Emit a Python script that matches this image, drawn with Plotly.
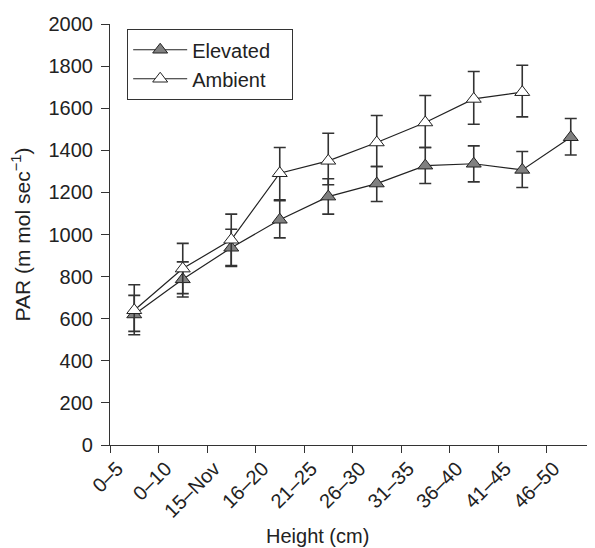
import plotly.graph_objects as go

categories = ["0–5", "0–10", "15–Nov", "16–20", "21–25", "26–30", "31–35", "36–40", "41–45", "46–50"]

elevated = [620, 787, 937, 1070, 1180, 1242, 1327, 1336, 1307, 1462]
elevated_upper = [711, 870, 1025, 1160, 1265, 1323, 1413, 1421, 1394, 1551]
elevated_lower = [540, 703, 848, 984, 1097, 1157, 1242, 1250, 1223, 1378]

ambient = [640, 838, 975, 1291, 1350, 1437, 1532, 1644, 1676]
ambient_upper = [761, 958, 1097, 1413, 1481, 1565, 1660, 1774, 1804]
ambient_lower = [524, 719, 853, 1165, 1236, 1323, 1413, 1524, 1559]

yticks = [0, 200, 400, 600, 800, 1000, 1200, 1400, 1600, 1800, 2000]

FONT = "Liberation Sans, Arial, sans-serif"
TXT = "#222222"
AX = "#333333"

def err(vals, up, lo):
    return dict(type="data", symmetric=False,
                array=[u - v for u, v in zip(up, vals)],
                arrayminus=[v - l for v, l in zip(vals, lo)],
                color=AX, thickness=1.6, width=6)

fig = go.Figure()
fig.add_trace(go.Scatter(
    x=categories, y=elevated, name="Elevated\u00a0\u00a0\u00a0", mode="lines+markers",
    legendgroup="e",
    line=dict(color="#222222", width=1.2),
    marker=dict(symbol="triangle-up", size=13, color="#808080",
                line=dict(color="#222222", width=1)),
    error_y=err(elevated, elevated_upper, elevated_lower),
))
fig.add_trace(go.Scatter(
    x=categories[:len(ambient)], y=ambient, name="Ambient", mode="lines+markers",
    legendgroup="a",
    line=dict(color="#222222", width=1.2),
    marker=dict(symbol="triangle-up", size=13, color="white",
                line=dict(color="#222222", width=1)),
    error_y=err(ambient, ambient_upper, ambient_lower),
))

fig.update_layout(
    width=587, height=540,
    margin=dict(l=102, r=0, t=16, b=102.5, autoexpand=False),
    paper_bgcolor="white", plot_bgcolor="white",
    font=dict(family=FONT, size=20, color=TXT),
    showlegend=True,
    legend=dict(x=0.035, y=0.988, xanchor="left", yanchor="top",
                bgcolor="white", bordercolor=AX, borderwidth=1.2,
                font=dict(size=20, color=TXT), tracegroupgap=0,
                traceorder="grouped", itemwidth=54),
    xaxis=dict(type="category", range=[-0.5, 9.5], tickson="boundaries",
               automargin=False,
               ticks="outside", ticklen=7, tickcolor=AX, tickwidth=1.2,
               showline=True, linecolor=AX, linewidth=1.2,
               showgrid=False, zeroline=False, tickangle=-45,
               ticklabelshift=-17, ticklabelstandoff=3,
               tickfont=dict(size=20)),
    yaxis=dict(range=[0, 2000], tickvals=yticks, automargin=False,
               ticks="outside", ticklen=8, tickcolor=AX, tickwidth=1.2,
               showline=True, linecolor=AX, linewidth=1.2,
               showgrid=False, zeroline=False, ticklabelstandoff=4,
               title=dict(text="PAR (m mol sec<sup>−1</sup>)", standoff=12,
                          font=dict(size=21))),
    annotations=[dict(text="Height (cm)", xref="paper", yref="paper",
                      x=0.427, y=-0.217, xanchor="center", yanchor="middle",
                      showarrow=False, font=dict(size=20, color=TXT))],
)

fig.write_html("out.html")
